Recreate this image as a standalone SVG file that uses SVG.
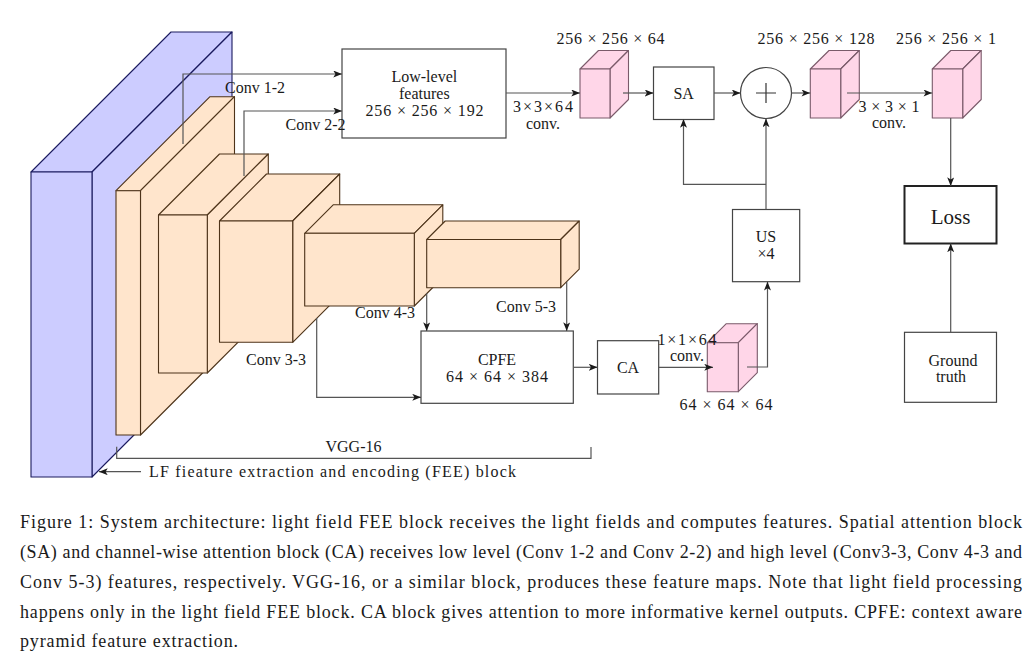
<svg xmlns="http://www.w3.org/2000/svg" width="1035" height="663" viewBox="0 0 1035 663">
<defs>
<marker id="ah" viewBox="0 0 10 8" refX="10" refY="4" markerWidth="9" markerHeight="7" orient="auto" markerUnits="userSpaceOnUse"><path d="M0,0 L10,4 L0,8 L2.5,4 z" fill="#1a1a1a"/></marker>
<style>
text{font-family:"Liberation Serif","Times New Roman",serif;fill:#1a1a1a;font-size:16px;text-anchor:middle}
.cap{font-size:18px;text-anchor:start}
.blue{fill:#ccccff;stroke:#1a1a5e;stroke-width:1.1;stroke-linejoin:round}
.org{fill:#ffe5cc;stroke:#4d3319;stroke-width:1.1;stroke-linejoin:round}
.pink{fill:#ffd6e8;stroke:#7a5a6a;stroke-width:1.1;stroke-linejoin:round}
.box{fill:#fff;stroke:#444;stroke-width:1.2}
.ln{fill:none;stroke:#555;stroke-width:1.2}
.arr{fill:none;stroke:#555;stroke-width:1.2;marker-end:url(#ah)}
</style>
</defs>
<rect width="1035" height="663" fill="#fff"/>

<g id="fee-block">
<polygon class="blue" points="31,172 171,32 232,32 92,172"/>
<polygon class="blue" points="92,172 232,32 232,337 92,477"/>
<rect class="blue" x="31" y="172" width="61" height="305"/>
</g>

<g id="vgg-conv1">
<polygon class="org" points="116,190.7 210,96.7 234.5,96.7 140.5,190.7"/>
<polygon class="org" points="140.5,190.7 234.5,96.7 234.5,341 140.5,435"/>
<rect class="org" x="116" y="190.7" width="24.5" height="244.3"/>
</g>
<g id="vgg-conv2">
<polygon class="org" points="158.5,215 219.5,154 268.3,154 207.3,215"/>
<polygon class="org" points="207.3,215 268.3,154 268.3,312 207.3,373"/>
<rect class="org" x="158.5" y="215" width="48.8" height="158"/>
</g>
<g id="vgg-conv3">
<polygon class="org" points="219.5,221 266.5,174 339.7,174 292.7,221"/>
<polygon class="org" points="292.7,221 339.7,174 339.7,295.3 292.7,342.3"/>
<rect class="org" x="219.5" y="221" width="73.2" height="121.3"/>
</g>
<g id="vgg-conv4">
<polygon class="org" points="304.7,233.3 333.2,204.8 442.8,204.8 414.3,233.3"/>
<polygon class="org" points="414.3,233.3 442.8,204.8 442.8,277.5 414.3,306"/>
<rect class="org" x="304.7" y="233.3" width="109.6" height="72.7"/>
</g>
<g id="vgg-conv5">
<polygon class="org" points="426.7,239.5 445.2,221 579.2,221 560.7,239.5"/>
<polygon class="org" points="560.7,239.5 579.2,221 579.2,269.2 560.7,287.7"/>
<rect class="org" x="426.7" y="239.5" width="134" height="48.2"/>
</g>

<g id="low-level-features">
<rect class="box" x="342" y="49" width="164" height="89"/>
<text x="424.3" y="81.5">Low-level</text>
<text x="424.3" y="98.5">features</text>
<text x="424.5" y="115.5" textLength="118" lengthAdjust="spacing">256 × 256 × 192</text>
</g>

<g id="fmap-64">
<polygon class="pink" points="580,69 598.5,50.5 628.5,50.5 610,69"/>
<polygon class="pink" points="610,69 628.5,50.5 628.5,99.5 610,118"/>
<rect class="pink" x="580" y="69" width="30" height="49"/>
<text x="610.5" y="43.5" textLength="108" lengthAdjust="spacing">256 × 256 × 64</text>
</g>

<g id="sa">
<rect class="box" x="653.5" y="67" width="60.5" height="52.5"/>
<text x="683.7" y="98.5">SA</text>
</g>

<g id="sum">
<circle class="box" cx="766" cy="93" r="25.5"/>
<path class="ln" d="M756,93 H776 M766,83 V103" style="stroke:#333"/>
</g>

<g id="fmap-128">
<polygon class="pink" points="810.3,69 829,50.5 859.3,50.5 840.7,69"/>
<polygon class="pink" points="840.7,69 859.3,50.5 859.3,99.5 840.7,118"/>
<rect class="pink" x="810.3" y="69" width="30.4" height="49"/>
<text x="816" y="43.5" textLength="117" lengthAdjust="spacing">256 × 256 × 128</text>
</g>

<g id="fmap-1">
<polygon class="pink" points="932.3,69 950.8,50.5 981.2,50.5 962.7,69"/>
<polygon class="pink" points="962.7,69 981.2,50.5 981.2,99.5 962.7,118"/>
<rect class="pink" x="932.3" y="69" width="30.4" height="49"/>
<text x="946" y="43.5" textLength="100" lengthAdjust="spacing">256 × 256 × 1</text>
</g>

<g id="loss">
<rect x="904.5" y="186" width="92" height="57.5" fill="#fff" stroke="#222" stroke-width="2"/>
<text x="950.5" y="223.5" style="font-size:21px">Loss</text>
</g>

<g id="us">
<rect class="box" x="732.5" y="209.5" width="67.2" height="72.2"/>
<text x="766" y="241.5">US</text>
<text x="766" y="258.5">×4</text>
</g>

<g id="cpfe">
<rect class="box" x="421" y="331" width="152.3" height="72.3"/>
<text x="497" y="364.5">CPFE</text>
<text x="497" y="381.5" textLength="102" lengthAdjust="spacing">64 × 64 × 384</text>
</g>

<g id="ca">
<rect class="box" x="597.5" y="340.7" width="61.2" height="53.3"/>
<text x="628" y="372.5">CA</text>
</g>

<g id="fmap-64-low">
<polygon class="pink" points="707.3,342.7 726.3,323.7 757.3,323.7 738.3,342.7"/>
<polygon class="pink" points="738.3,342.7 757.3,323.7 757.3,372.7 738.3,391.7"/>
<rect class="pink" x="707.3" y="342.7" width="31" height="49"/>
<text x="726" y="409.5" textLength="93" lengthAdjust="spacing">64 × 64 × 64</text>
</g>

<g id="ground-truth">
<rect class="box" x="904.5" y="332.3" width="92" height="70"/>
<text x="953" y="365.5">Ground</text>
<text x="951" y="381.5">truth</text>
</g>

<g id="connectors">
<path class="arr" d="M183,144 V74 H342"/>
<path class="arr" d="M244,176 V111 H342"/>
<path class="arr" d="M506,93 H580"/>
<path class="arr" d="M623,93 H653.5"/>
<path class="arr" d="M714,93 H740.5"/>
<path class="arr" d="M791.5,93 H810.3"/>
<path class="arr" d="M847,93 H932.3"/>
<path class="arr" d="M950.7,118 V186"/>
<path class="arr" d="M950.7,332.3 V243.5"/>
<path class="arr" d="M766,209.5 V118.5"/>
<path class="arr" d="M766,184.3 H683.5 V119"/>
<path class="arr" d="M747,367 H767.5 V281.7"/>
<path class="arr" d="M426.7,293 V331"/>
<path class="arr" d="M566.7,282 V331"/>
<path class="arr" d="M316.7,318 V397.3 H421"/>
<path class="arr" d="M573.3,367.3 H597.5"/>
<path class="arr" d="M658.7,367.3 H713"/>
<path class="ln" d="M116.7,446.7 V458.3 H591 V447"/>
<path class="arr" d="M141,471.7 H99"/>
</g>

<g id="labels">
<text x="255" y="93">Conv 1-2</text>
<text x="315.5" y="129.5">Conv 2-2</text>
<text x="543" y="111.5" textLength="60" lengthAdjust="spacing">3×3×64</text>
<text x="543" y="129">conv.</text>
<text x="889" y="111.5" textLength="61" lengthAdjust="spacing">3 × 3 × 1</text>
<text x="889" y="128">conv.</text>
<text x="687" y="344.5" textLength="59" lengthAdjust="spacing">1×1×64</text>
<text x="687" y="360.5">conv.</text>
<text x="385" y="318">Conv 4-3</text>
<text x="526" y="312">Conv 5-3</text>
<text x="276" y="364.5">Conv 3-3</text>
<text x="353.5" y="451.5">VGG-16</text>
<text x="149" y="476.5" style="text-anchor:start" textLength="367" lengthAdjust="spacing">LF fieature extraction and encoding (FEE) block</text>
</g>

<g id="caption">
<text class="cap" x="20" y="528" textLength="1002" lengthAdjust="spacing">Figure 1: System architecture: light field FEE block receives the light fields and computes features. Spatial attention block</text>
<text class="cap" x="20" y="558" textLength="1002" lengthAdjust="spacing">(SA) and channel-wise attention block (CA) receives low level (Conv 1-2 and Conv 2-2) and high level (Conv3-3, Conv 4-3 and</text>
<text class="cap" x="20" y="588" textLength="1002" lengthAdjust="spacing">Conv 5-3) features, respectively. VGG-16, or a similar block, produces these feature maps. Note that light field processing</text>
<text class="cap" x="20" y="617.5" textLength="1002" lengthAdjust="spacing">happens only in the light field FEE block. CA block gives attention to more informative kernel outputs. CPFE: context aware</text>
<text class="cap" x="20" y="647" textLength="218" lengthAdjust="spacing">pyramid feature extraction.</text>
</g>
</svg>
